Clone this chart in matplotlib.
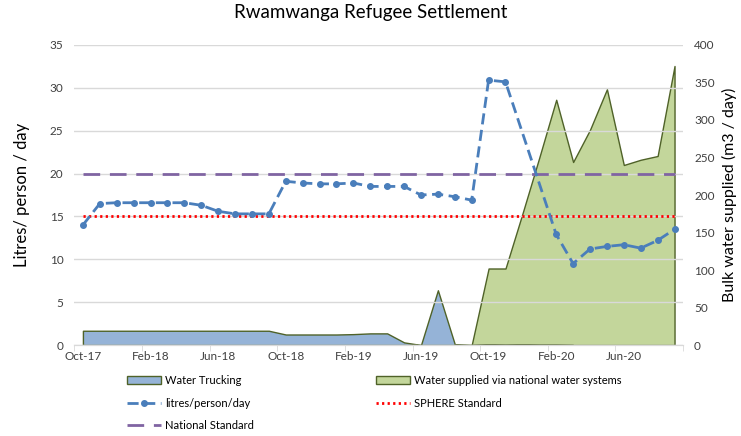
"""
Rwamwanga Refugee Settlement - water supply chart
"""

import numpy as np
import matplotlib
matplotlib.use('Agg')
import matplotlib.pyplot as plt
from matplotlib.patches import Patch
from matplotlib.lines import Line2D

plt.rcParams['font.family'] = ['Lato', 'DejaVu Sans']

# Months Oct-17 .. Sep-20 (36 months)
months = ['Oct-17', 'Nov-17', 'Dec-17', 'Jan-18', 'Feb-18', 'Mar-18', 'Apr-18', 'May-18',
          'Jun-18', 'Jul-18', 'Aug-18', 'Sep-18', 'Oct-18', 'Nov-18', 'Dec-18', 'Jan-19',
          'Feb-19', 'Mar-19', 'Apr-19', 'May-19', 'Jun-19', 'Jul-19', 'Aug-19', 'Sep-19',
          'Oct-19', 'Nov-19', 'Dec-19', 'Jan-20', 'Feb-20', 'Mar-20', 'Apr-20', 'May-20',
          'Jun-20', 'Jul-20', 'Aug-20', 'Sep-20']
tick_labels = ['Oct-17', 'Feb-18', 'Jun-18', 'Oct-18', 'Feb-19', 'Jun-19', 'Oct-19', 'Feb-20', 'Jun-20']

# litres/person/day (left axis)
litres_pp = [14.0, 16.5, 16.6, 16.6, 16.6, 16.6, 16.6, 16.3, 15.6, 15.3, 15.3, 15.3,
             19.1, 18.9, 18.8, 18.8, 18.9, 18.5, 18.5, 18.5, 17.5, 17.6, 17.3, 16.9,
             30.9, 30.7, None, None, 12.9, 9.5, 11.2, 11.5, 11.7, 11.3, 12.2, 13.5]
national_std = [20] * 36
sphere_std = [15] * 36

# bulk water supplied, m3/day (right axis)
trucking = [19, 19, 19, 19, 19, 19, 19, 19, 19, 19, 19, 19,
            14, 14, 14, 14, 14.5, 15.5, 15.5, 3.5, 0, 73, 1, 0,
            1, 0.5, 1, 0.5, 0.5, 0, None, None, None, None, None, None]
national_sys = [None] * 23 + [0, 102, 102, 175, 250, 327, 244, 287, 341, 240, 247, 252, 372]

x = np.arange(len(months))


def arr(values):
    return np.array([np.nan if v is None else v for v in values], dtype=float)


fig = plt.figure(figsize=(7.41, 4.36), dpi=100)
ax = fig.add_axes([0.1005, 0.2087, 0.8212, 0.6881])
ax2 = ax.twinx()

# areas on the right axis, drawn behind the left axis lines
ax.set_zorder(ax2.get_zorder() + 1)
ax.patch.set_visible(False)

edge = '#4f6228'
ax2.fill_between(x, 0, arr(national_sys), facecolor='#c3d69b', edgecolor=edge, linewidth=1)
ax2.fill_between(x, 0, arr(trucking), facecolor='#95b3d7', edgecolor=edge, linewidth=1)

lp = arr(litres_pp)
ok = ~np.isnan(lp)
ax.plot(x, national_std, color='#8064a2', lw=2, dashes=(6, 3.5))
ax.plot(x, sphere_std, color='#ff0000', lw=2, dashes=(0.8, 1.2))
ax.plot(x[ok], lp[ok], color='#4a7ebb', lw=2, dashes=(4, 2), marker='o', markersize=4)

ax.set_xlim(-0.5, 35.5)
ax.set_ylim(0, 35)
ax.set_yticks(range(0, 36, 5))
ax2.set_ylim(0, 400)
ax2.set_yticks(range(0, 401, 50))

ax.yaxis.grid(True, color='#d9d9d9', lw=1)
ax.set_axisbelow(True)

ax.set_xticks(x[::4], tick_labels)
ax.set_xticks(np.arange(-0.5, 36, 4), minor=True)
ax.tick_params(axis='x', which='major', length=0, pad=4, labelsize=8.5, colors='#404040')
ax.tick_params(axis='x', which='minor', length=4, color='#d9d9d9')
ax.tick_params(axis='y', length=0, labelsize=8.5, colors='#404040', pad=8)
ax2.tick_params(axis='y', length=0, labelsize=8.5, colors='#404040', pad=8)

for a in (ax, ax2):
    for s in ('top', 'left', 'right'):
        a.spines[s].set_visible(False)
    a.spines['bottom'].set_color('#d9d9d9')

ax.set_ylabel('Litres/ person / day', fontsize=12, labelpad=14)
ax2.set_ylabel('Bulk water supplied (m3 / day)', fontsize=11.5, labelpad=5)
fig.suptitle('Rwamwanga Refugee Settlement', fontsize=13.5, y=0.99)

handles = [
    Patch(facecolor='#95b3d7', edgecolor=edge, label='Water Trucking'),
    Line2D([], [], color='#4a7ebb', lw=2, dashes=(4, 2), marker='o', markersize=4,
           label='litres/person/day'),
    Line2D([], [], color='#8064a2', lw=2, dashes=(6, 3.5), label='National Standard'),
    Patch(facecolor='#c3d69b', edgecolor=edge, label='Water supplied via national water systems'),
    Line2D([], [], color='#ff0000', lw=2, dashes=(0.8, 1.2), label='SPHERE Standard'),
]
fig.legend(handles=handles, ncol=2, loc='upper left', bbox_to_anchor=(0.172, 0.14),
           frameon=False, fontsize=8, handlelength=3, handletextpad=0.4,
           labelspacing=1.05, columnspacing=11, borderpad=0, borderaxespad=0)

fig.savefig('out.png', dpi=100)
